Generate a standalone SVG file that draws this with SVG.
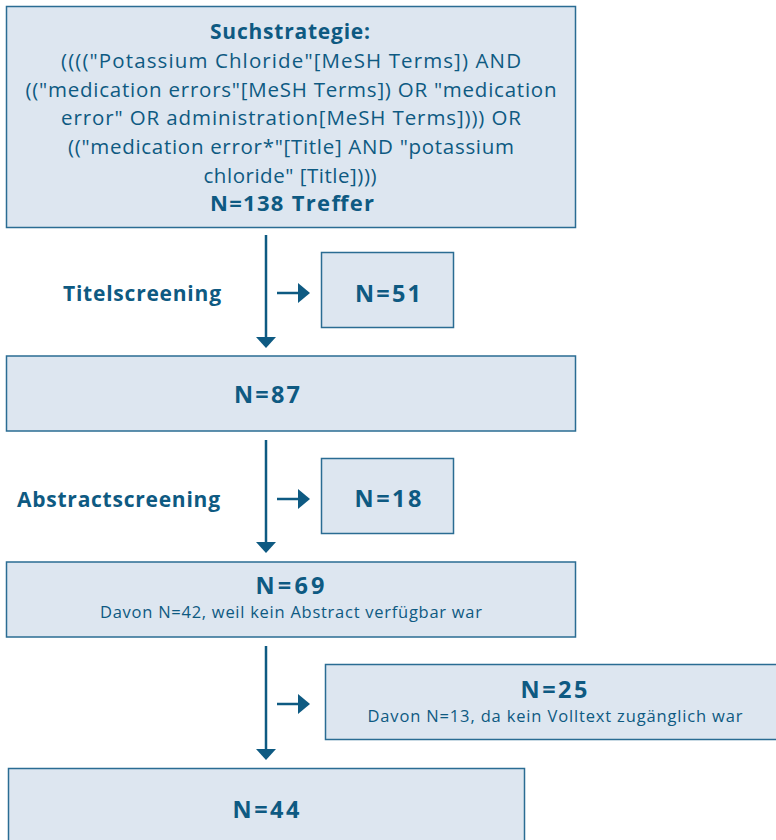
<svg xmlns="http://www.w3.org/2000/svg" width="776" height="840" viewBox="0 0 776 840">
<style>
.box{fill:#dde6f0;stroke:#2a6c93;stroke-width:1.5}
.t{font-family:"Open Sans","Liberation Sans",sans-serif;fill:#0e5a82;text-anchor:middle}
.b{font-weight:bold;font-size:21px}
.n{font-weight:bold;font-size:23.5px}
.r{font-size:20.5px}
.s{font-size:16.5px}
.lbl{font-family:"Open Sans","Liberation Sans",sans-serif;fill:#0e5a82;font-weight:bold;font-size:21px}
.ln{stroke:#0e5a82;stroke-width:2.5;fill:none}
.hd{fill:#0e5a82}
</style>
<rect width="776" height="840" fill="#ffffff"/>
<g id="connectors">
<line class="ln" x1="266" y1="235" x2="266" y2="338"/>
<polygon class="hd" points="256,337 276,337 266,348"/>
<line class="ln" x1="277" y1="293" x2="299" y2="293"/>
<polygon class="hd" points="298,283 298,303 310,293"/>
<line class="ln" x1="266" y1="440" x2="266" y2="543"/>
<polygon class="hd" points="256,542 276,542 266,553"/>
<line class="ln" x1="277" y1="499" x2="299" y2="499"/>
<polygon class="hd" points="298,489 298,509 310,499"/>
<line class="ln" x1="266" y1="646" x2="266" y2="750"/>
<polygon class="hd" points="256,749 276,749 266,760"/>
<line class="ln" x1="277" y1="704" x2="299" y2="704"/>
<polygon class="hd" points="298,694 298,714 310,704"/>
</g>
<g id="search">
<rect class="box" x="6.5" y="6.5" width="569" height="221"/>
<text class="t b" x="290" y="39" textLength="160">Suchstrategie:</text>
<text class="t r" x="291" y="68" textLength="460">(((("Potassium Chloride"[MeSH Terms]) AND</text>
<text class="t r" x="291" y="97" textLength="531">(("medication errors"[MeSH Terms]) OR "medication</text>
<text class="t r" x="291" y="125" textLength="460">error" OR administration[MeSH Terms]))) OR</text>
<text class="t r" x="291" y="154" textLength="446">(("medication error*"[Title] AND "potassium</text>
<text class="t r" x="290" y="183" textLength="173">chloride" [Title])))</text>
<text class="t b" x="292" y="211" style="font-size:22px" textLength="164">N=138 Treffer</text>
</g>
<g id="label-titel">
<text class="lbl" x="63" y="301" textLength="158">Titelscreening</text>
</g>
<g id="n51">
<rect class="box" x="321.5" y="252.5" width="132" height="75"/>
<text class="t n" x="388" y="302" textLength="66">N=51</text>
</g>
<g id="n87">
<rect class="box" x="6.5" y="356" width="569" height="75"/>
<text class="t n" x="267" y="403" textLength="66">N=87</text>
</g>
<g id="label-abstract">
<text class="lbl" x="17" y="507" textLength="203">Abstractscreening</text>
</g>
<g id="n18">
<rect class="box" x="321.5" y="458.5" width="132" height="75"/>
<text class="t n" x="388" y="507" textLength="67">N=18</text>
</g>
<g id="n69">
<rect class="box" x="6.5" y="562" width="569" height="75"/>
<text class="t n" x="290" y="594" textLength="69">N=69</text>
<text class="t s" x="291" y="618" textLength="382">Davon N=42, weil kein Abstract verfügbar war</text>
</g>
<g id="n25">
<rect class="box" x="325.5" y="664.5" width="460" height="75"/>
<text class="t n" x="554" y="698" textLength="67">N=25</text>
<text class="t s" x="555" y="722" textLength="375">Davon N=13, da kein Volltext zugänglich war</text>
</g>
<g id="n44">
<rect class="box" x="8.5" y="768.5" width="516" height="80"/>
<text class="t n" x="266" y="818" textLength="67">N=44</text>
</g>
</svg>
